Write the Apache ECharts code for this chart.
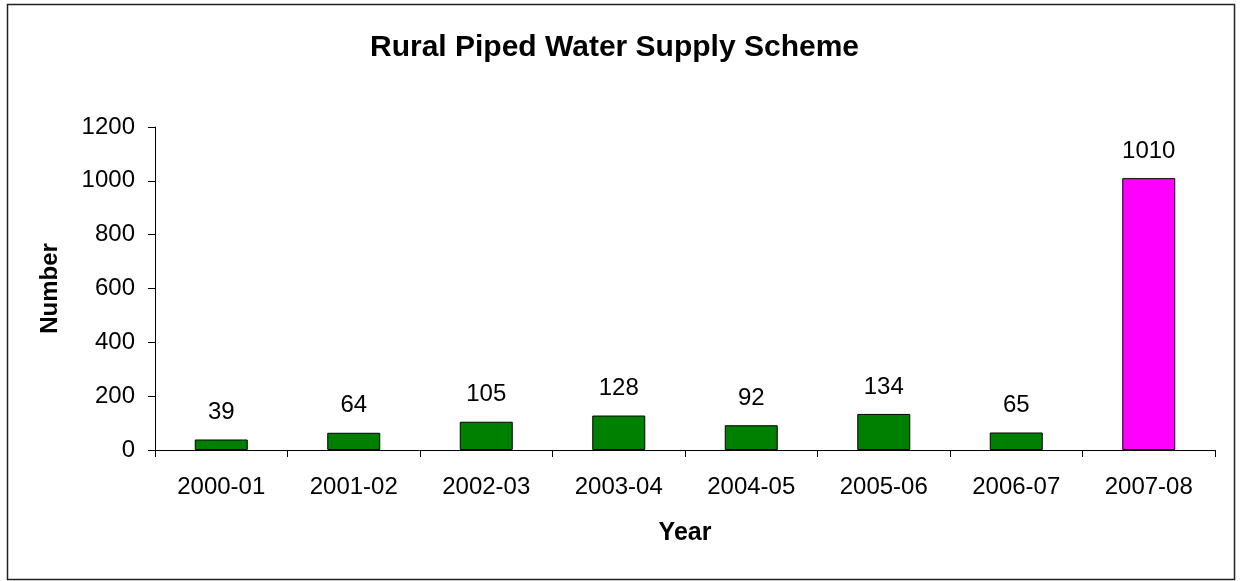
<!DOCTYPE html>
<html>
<head>
<meta charset="utf-8">
<script src="https://cdn.jsdelivr.net/npm/echarts@6/dist/echarts.min.js"></script>
<style>
html,body{margin:0;padding:0;background:#fff;}
#c{width:1243px;height:581px;}
</style>
</head>
<body>
<div id="c"></div>
<script>
var categories = ['2000-01','2001-02','2002-03','2003-04','2004-05','2005-06','2006-07','2007-08'];
var values = [39, 64, 105, 128, 92, 134, 65, 1010];
var barColors = ['#008000','#008000','#008000','#008000','#008000','#008000','#008000','#FF00FF'];
var yTicks = { min: 0, max: 1200, interval: 200 };

var chart = echarts.init(document.getElementById('c'));
var FONT = '"Liberation Sans", Arial, sans-serif';
chart.setOption({
  animation: false,
  textStyle: { fontFamily: FONT },
  title: {
    text: 'Rural Piped Water Supply Scheme',
    left: 365,
    top: 28,
    textStyle: { fontFamily: FONT, fontSize: 30, fontWeight: 'bold', color: '#000' }
  },
  graphic: [{
    type: 'rect',
    shape: { x: 7.5, y: 4.5, width: 1227, height: 575 },
    style: { fill: 'none', stroke: '#222', lineWidth: 1.5 },
    silent: true
  }],
  grid: { left: 155, right: 28, top: 127, bottom: 131, containLabel: false },
  xAxis: {
    type: 'category',
    data: categories,
    name: 'Year',
    nameLocation: 'middle',
    nameGap: 71,
    nameTextStyle: { fontFamily: FONT, fontSize: 25, fontWeight: 'bold', color: '#000' },
    axisLine: { lineStyle: { color: '#000', width: 1 } },
    axisTick: { show: true, inside: false, length: 7, lineStyle: { color: '#000' } },
    axisLabel: { fontFamily: FONT, fontSize: 24, color: '#000', margin: 25 },
    splitLine: { show: false }
  },
  yAxis: {
    type: 'value',
    min: yTicks.min,
    max: yTicks.max,
    interval: yTicks.interval,
    name: 'Number',
    nameLocation: 'middle',
    nameGap: 93,
    nameRotate: 90,
    nameTextStyle: { fontFamily: FONT, fontSize: 24, fontWeight: 'bold', color: '#000' },
    axisLine: { show: true, lineStyle: { color: '#000', width: 1 } },
    axisTick: { show: true, length: 7, lineStyle: { color: '#000' } },
    axisLabel: { fontFamily: FONT, fontSize: 24, color: '#000', margin: 20, formatter: function (v) { return String(v); } },
    splitLine: { show: false }
  },
  series: [{
    type: 'bar',
    barWidth: '40%',
    data: values.map(function (v, i) {
      return { value: v, itemStyle: { color: barColors[i] } };
    }),
    itemStyle: { borderColor: '#000', borderWidth: 1 },
    label: {
      show: true,
      position: 'top',
      distance: 15,
      fontFamily: FONT,
      fontSize: 24,
      color: '#000'
    }
  }]
});
</script>
</body>
</html>
